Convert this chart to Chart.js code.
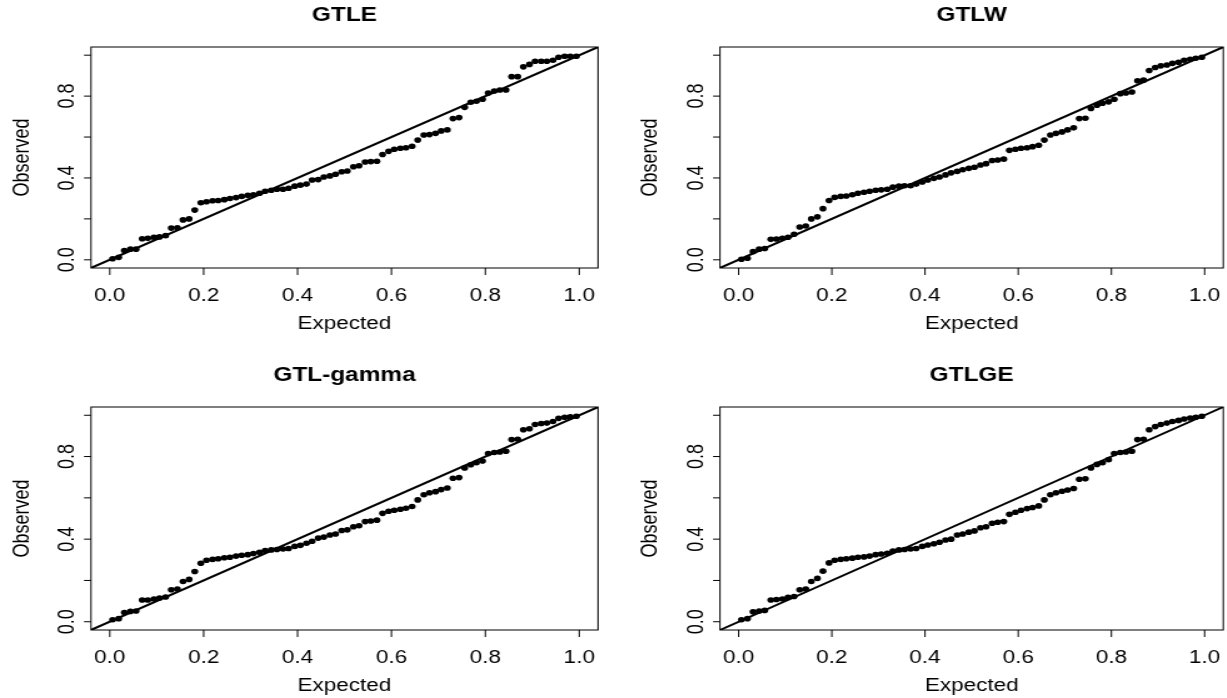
<!DOCTYPE html>
<html>
<head>
<meta charset="utf-8">
<script src="https://cdn.jsdelivr.net/npm/chart.js@4"></script>
<style>
    body { margin: 0; background: #fff; width: 1227px; height: 698px; overflow: hidden; position: relative; }
    .cuadro { position: absolute; transform-origin: 0 0; }
    canvas { display: block; }
</style>
</head>
<body>

<div class="cuadro" id="cuadro0"><canvas id="grafica0"></canvas></div>
<div class="cuadro" id="cuadro1"><canvas id="grafica1"></canvas></div>
<div class="cuadro" id="cuadro2"><canvas id="grafica2"></canvas></div>
<div class="cuadro" id="cuadro3"><canvas id="grafica3"></canvas></div>

<script>
// ============================
// DATOS
// ============================

const titulos = ["GTLE", "GTLW", "GTL-gamma", "GTLGE"];

// probabilidades esperadas (eje x)
const esperado = [
    0.006, 0.019, 0.031, 0.044, 0.056, 0.069, 0.081, 0.094, 0.106, 0.119,
    0.131, 0.144, 0.156, 0.169, 0.181, 0.194, 0.206, 0.219, 0.231, 0.244,
    0.256, 0.269, 0.281, 0.294, 0.306, 0.319, 0.331, 0.344, 0.356, 0.369,
    0.381, 0.394, 0.406, 0.419, 0.431, 0.444, 0.456, 0.469, 0.481, 0.494,
    0.506, 0.519, 0.531, 0.544, 0.556, 0.569, 0.581, 0.594, 0.606, 0.619,
    0.631, 0.644, 0.656, 0.669, 0.681, 0.694, 0.706, 0.719, 0.731, 0.744,
    0.756, 0.769, 0.781, 0.794, 0.806, 0.819, 0.831, 0.844, 0.856, 0.869,
    0.881, 0.894, 0.906, 0.919, 0.931, 0.944, 0.956, 0.969, 0.981, 0.994
];

// probabilidades observadas (eje y), una lista por modelo
const obsGTLE = [
    0.005, 0.012, 0.045, 0.052, 0.052, 0.103, 0.105, 0.110, 0.112, 0.118,
    0.155, 0.157, 0.195, 0.200, 0.243, 0.279, 0.284, 0.289, 0.290, 0.294,
    0.300, 0.304, 0.310, 0.315, 0.318, 0.325, 0.335, 0.340, 0.345, 0.345,
    0.350, 0.360, 0.365, 0.370, 0.390, 0.392, 0.405, 0.410, 0.418, 0.430,
    0.434, 0.455, 0.460, 0.478, 0.480, 0.482, 0.515, 0.530, 0.540, 0.545,
    0.548, 0.555, 0.585, 0.610, 0.612, 0.618, 0.630, 0.635, 0.690, 0.695,
    0.745, 0.770, 0.775, 0.785, 0.815, 0.825, 0.830, 0.830, 0.895, 0.895,
    0.943, 0.955, 0.970, 0.970, 0.970, 0.975, 0.990, 0.995, 0.995, 0.995
];

const obsGTLW = [
    0.003, 0.008, 0.040, 0.052, 0.055, 0.100, 0.102, 0.105, 0.110, 0.125,
    0.160, 0.165, 0.200, 0.210, 0.250, 0.290, 0.305, 0.310, 0.312, 0.318,
    0.325, 0.330, 0.335, 0.340, 0.342, 0.345, 0.355, 0.360, 0.362, 0.362,
    0.370, 0.380, 0.390, 0.398, 0.405, 0.415, 0.425, 0.432, 0.440, 0.447,
    0.452, 0.463, 0.470, 0.485, 0.488, 0.492, 0.535, 0.540, 0.545, 0.548,
    0.553, 0.560, 0.585, 0.610, 0.618, 0.625, 0.635, 0.645, 0.690, 0.692,
    0.740, 0.755, 0.765, 0.772, 0.785, 0.812, 0.815, 0.820, 0.875, 0.878,
    0.925, 0.940, 0.948, 0.952, 0.960, 0.965, 0.975, 0.980, 0.985, 0.990
];

const obsGTLgamma = [
    0.010, 0.015, 0.045, 0.050, 0.052, 0.105, 0.105, 0.110, 0.115, 0.120,
    0.155, 0.158, 0.195, 0.205, 0.243, 0.283, 0.298, 0.302, 0.305, 0.310,
    0.312, 0.318, 0.322, 0.325, 0.330, 0.336, 0.345, 0.348, 0.350, 0.352,
    0.355, 0.365, 0.370, 0.380, 0.390, 0.405, 0.410, 0.420, 0.425, 0.442,
    0.445, 0.460, 0.465, 0.485, 0.488, 0.492, 0.525, 0.535, 0.540, 0.545,
    0.550, 0.558, 0.590, 0.615, 0.625, 0.630, 0.640, 0.648, 0.695, 0.698,
    0.745, 0.760, 0.770, 0.778, 0.815, 0.820, 0.822, 0.826, 0.882, 0.884,
    0.930, 0.935, 0.955, 0.960, 0.962, 0.970, 0.985, 0.990, 0.992, 0.995
];

const obsGTLGE = [
    0.010, 0.015, 0.048, 0.052, 0.055, 0.105, 0.108, 0.110, 0.118, 0.122,
    0.155, 0.158, 0.195, 0.210, 0.245, 0.285, 0.298, 0.302, 0.305, 0.308,
    0.312, 0.314, 0.318, 0.325, 0.328, 0.332, 0.342, 0.348, 0.350, 0.352,
    0.355, 0.365, 0.372, 0.378, 0.385, 0.396, 0.400, 0.420, 0.425, 0.434,
    0.440, 0.455, 0.460, 0.477, 0.482, 0.485, 0.520, 0.530, 0.540, 0.548,
    0.553, 0.561, 0.590, 0.615, 0.625, 0.632, 0.638, 0.645, 0.690, 0.692,
    0.745, 0.762, 0.770, 0.785, 0.815, 0.820, 0.822, 0.826, 0.882, 0.884,
    0.930, 0.945, 0.955, 0.962, 0.970, 0.975, 0.982, 0.987, 0.990, 0.995
];

const observados = [obsGTLE, obsGTLW, obsGTLgamma, obsGTLGE];

// ejes
const rango = [-0.04, 1.04];
const ticksX = [0, 0.2, 0.4, 0.6, 0.8, 1.0];
const etiquetasX = ["0.0", "0.2", "0.4", "0.6", "0.8", "1.0"];
const ticksY = [0, 0.2, 0.4, 0.6, 0.8, 1.0];
const ticksYEtiqueta = [0, 0.4, 0.8];
const etiquetasY = ["0.0", "0.4", "0.8"];
const diagonal = [rango[0], rango[1]];


// ============================
// DISPOSICIÓN
// ============================

// la imagen original está estirada a lo ancho
const ESTIRA = 1.25;
const FUENTE = '"Liberation Sans", Arial, Helvetica, sans-serif';

// cuadros de página y área de trazado en coordenadas de página
const paneles = [
    { x: 0,   y: 0,   w: 613, h: 349, area: [91, 47, 598, 268] },
    { x: 613, y: 0,   w: 614, h: 349, area: [720, 47, 1224, 268] },
    { x: 0,   y: 349, w: 613, h: 349, area: [91, 407, 598, 630] },
    { x: 613, y: 349, w: 614, h: 349, area: [720, 407, 1224, 630] }
];


// ============================
// PLUGIN ESTILO R
// ============================

const marcoR = {
    id: "marcoR",
    afterDraw(chart) {
        const ctx = chart.ctx;
        const a = chart.chartArea;
        const sx = chart.scales.x;
        const sy = chart.scales.y;
        const titulo = chart.options.plugins.marcoR.titulo;

        ctx.save();
        ctx.strokeStyle = "#000";
        ctx.fillStyle = "#000";
        ctx.lineWidth = 1;

        // caja
        ctx.strokeRect(a.left, a.top, a.right - a.left, a.bottom - a.top);

        // marcas eje x
        ctx.beginPath();
        ticksX.forEach(v => {
            const px = sx.getPixelForValue(v);
            ctx.moveTo(px, a.bottom);
            ctx.lineTo(px, a.bottom + 7);
        });
        // marcas eje y
        ticksY.forEach(v => {
            const py = sy.getPixelForValue(v);
            ctx.moveTo(a.left, py);
            ctx.lineTo(a.left - 7 / ESTIRA, py);
        });
        ctx.stroke();

        // etiquetas eje x
        ctx.font = "18px " + FUENTE;
        ctx.textAlign = "center";
        ctx.textBaseline = "middle";
        ticksX.forEach((v, i) => {
            ctx.fillText(etiquetasX[i], sx.getPixelForValue(v), a.bottom + 28);
        });
        ctx.fillText("Expected", (a.left + a.right) / 2, a.bottom + 56);

        // etiquetas eje y (giradas)
        ticksYEtiqueta.forEach((v, i) => {
            ctx.save();
            ctx.translate(a.left - 23 / ESTIRA, sy.getPixelForValue(v));
            ctx.rotate(-Math.PI / 2);
            ctx.fillText(etiquetasY[i], 0, 0);
            ctx.restore();
        });
        ctx.save();
        ctx.translate(a.left - 69 / ESTIRA, (a.top + a.bottom) / 2);
        ctx.rotate(-Math.PI / 2);
        ctx.fillText("Observed", 0, 0);
        ctx.restore();

        // título
        ctx.font = "bold 19.5px " + FUENTE;
        ctx.fillText(titulo, (a.left + a.right) / 2, a.top - 31);

        ctx.restore();
    }
};


// ============================
// GRÁFICAS
// ============================

function crearPanel(i) {

    const p = paneles[i];
    const cuadro = document.getElementById("cuadro" + i);
    const canvas = document.getElementById("grafica" + i);

    const ancho = Math.round(p.w / ESTIRA);
    canvas.width = ancho;
    canvas.height = p.h;

    cuadro.style.left = p.x + "px";
    cuadro.style.top = p.y + "px";
    cuadro.style.transform = "scaleX(" + ESTIRA + ")";

    const izq = (p.area[0] - p.x) / ESTIRA;
    const der = (p.area[2] - p.x) / ESTIRA;
    const arriba = p.area[1] - p.y;
    const abajo = p.area[3] - p.y;

    const puntos = esperado.map((x, k) => ({ x: x, y: observados[i][k] }));

    new Chart(canvas.getContext("2d"), {
        type: "scatter",
        data: {
            datasets: [
                {
                    data: puntos,
                    backgroundColor: "#000",
                    borderWidth: 0,
                    pointRadius: 2.8,
                    pointHoverRadius: 2.8
                },
                {
                    type: "line",
                    data: diagonal.map(v => ({ x: v, y: v })),
                    borderColor: "#000",
                    borderWidth: 2,
                    pointRadius: 0,
                    fill: false
                }
            ]
        },
        options: {
            responsive: false,
            animation: false,
            layout: {
                padding: { left: izq, right: ancho - der, top: arriba, bottom: p.h - abajo }
            },
            plugins: {
                legend: { display: false },
                tooltip: { enabled: false },
                marcoR: { titulo: titulos[i] }
            },
            scales: {
                x: { type: "linear", min: rango[0], max: rango[1], display: false },
                y: { type: "linear", min: rango[0], max: rango[1], display: false }
            }
        },
        plugins: [marcoR]
    });
}

[0, 1, 2, 3].forEach(crearPanel);
</script>
</body>
</html>
